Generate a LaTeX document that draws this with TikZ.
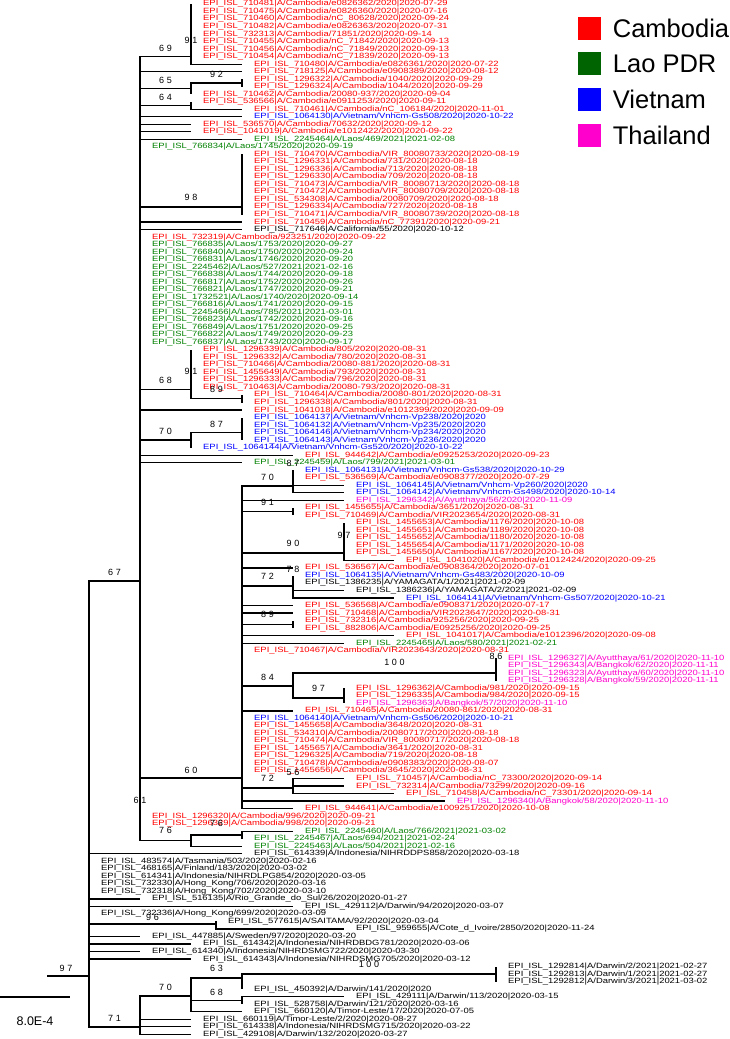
\documentclass[tikz,border=0pt]{standalone}
\usepackage{fontspec}
\setmainfont{Liberation Sans}
\newfontfamily\bsfont[LetterSpace=30]{Liberation Sans}
\usetikzlibrary{positioning}
\usepackage{xcolor}
\definecolor{cam}{RGB}{255,0,0}
\definecolor{lao}{RGB}{0,128,0}
\definecolor{laobox}{RGB}{0,100,0}
\definecolor{vn}{RGB}{0,0,255}
\definecolor{th}{RGB}{255,0,204}
% tree levels, one step per substitution
\newcommand{\lvA}{89}
\newcommand{\lvB}{140}
\newcommand{\lvC}{191}
\newcommand{\lvD}{242}
\newcommand{\lvE}{293}
\newcommand{\lvF}{344}
\newcommand{\lvG}{394}
\newcommand{\lvH}{445}
\newcommand{\lvI}{496}
% row, tip x, colour, strain name
\newcommand{\strain}[4]{%
 \coordinate (t#1) at (#2,{4+7.52*#1});
 \node[leaflab,text=#3] (l#1) at ({#2+12},{4+7.52*#1}) {\scalebox{1.24}[1]{EPI\_ISL\_#4}};}
\tikzset{
 br/.style={line width=1.3pt},
 leaflab/.style={anchor=west, inner sep=0pt, font=\fontsize{7.6}{8}\selectfont},
 bs/.style={inner sep=0pt, font=\bsfont\fontsize{9}{9}\selectfont},
 keybox/.style={minimum size=23pt, inner sep=0pt},
 keytxt/.style={inner sep=0pt, font=\fontsize{25.5}{27}\selectfont}
}
\begin{document}
\begin{tikzpicture}[x=1pt, y=-1pt]
\useasboundingbox (0,0) rectangle (729,1039);
% leaves
\strain{0}{\lvC}{cam}{710481|A/Cambodia/e0826362/2020|2020-07-29}
\strain{1}{\lvC}{cam}{710475|A/Cambodia/e0826360/2020|2020-07-16}
\strain{2}{\lvC}{cam}{710460|A/Cambodia/nC\_80628/2020|2020-09-24}
\strain{3}{\lvC}{cam}{710482|A/Cambodia/e0826363/2020|2020-07-31}
\strain{4}{\lvC}{cam}{732313|A/Cambodia/71851/2020|2020-09-14}
\strain{5}{\lvC}{cam}{710455|A/Cambodia/nC\_71842/2020|2020-09-13}
\strain{6}{\lvC}{cam}{710456|A/Cambodia/nC\_71849/2020|2020-09-13}
\strain{7}{\lvC}{cam}{710454|A/Cambodia/nC\_71839/2020|2020-09-13}
\strain{8}{\lvD}{cam}{710480|A/Cambodia/e0826361/2020|2020-07-22}
\strain{9}{\lvD}{cam}{718125|A/Cambodia/e0908389/2020|2020-08-12}
\strain{10}{\lvD}{cam}{1296322|A/Cambodia/1040/2020|2020-09-29}
\strain{11}{\lvD}{cam}{1296324|A/Cambodia/1044/2020|2020-09-29}
\strain{12}{\lvC}{cam}{710462|A/Cambodia/20080-937/2020|2020-09-04}
\strain{13}{\lvC}{cam}{536566|A/Cambodia/e0911253/2020|2020-09-11}
\strain{14}{\lvD}{cam}{710461|A/Cambodia/nC\_106184/2020|2020-11-01}
\strain{15}{\lvD}{vn}{1064130|A/Vietnam/Vnhcm-Gs508/2020|2020-10-22}
\strain{16}{\lvC}{cam}{536570|A/Cambodia/70632/2020|2020-09-12}
\strain{17}{\lvC}{cam}{1041019|A/Cambodia/e1012422/2020|2020-09-22}
\strain{18}{\lvD}{lao}{2245464|A/Laos/469/2021|2021-02-08}
\strain{19}{\lvB}{lao}{766834|A/Laos/1745/2020|2020-09-19}
\strain{20}{\lvD}{cam}{710470|A/Cambodia/VIR\_80080733/2020|2020-08-19}
\strain{21}{\lvD}{cam}{1296331|A/Cambodia/731/2020|2020-08-18}
\strain{22}{\lvD}{cam}{1296336|A/Cambodia/713/2020|2020-08-18}
\strain{23}{\lvD}{cam}{1296330|A/Cambodia/709/2020|2020-08-18}
\strain{24}{\lvD}{cam}{710473|A/Cambodia/VIR\_80080713/2020|2020-08-18}
\strain{25}{\lvD}{cam}{710472|A/Cambodia/VIR\_80080709/2020|2020-08-18}
\strain{26}{\lvD}{cam}{534308|A/Cambodia/20080709/2020|2020-08-18}
\strain{27}{\lvD}{cam}{1296334|A/Cambodia/727/2020|2020-08-18}
\strain{28}{\lvD}{cam}{710471|A/Cambodia/VIR\_80080739/2020|2020-08-18}
\strain{29}{\lvD}{cam}{710459|A/Cambodia/nC\_77391/2020|2020-09-21}
\strain{30}{\lvD}{black}{717646|A/California/55/2020|2020-10-12}
\strain{31}{\lvB}{cam}{732319|A/Cambodia/923251/2020|2020-09-22}
\strain{32}{\lvB}{lao}{766835|A/Laos/1753/2020|2020-09-27}
\strain{33}{\lvB}{lao}{766840|A/Laos/1750/2020|2020-09-24}
\strain{34}{\lvB}{lao}{766831|A/Laos/1746/2020|2020-09-20}
\strain{35}{\lvB}{lao}{2245462|A/Laos/527/2021|2021-02-16}
\strain{36}{\lvB}{lao}{766838|A/Laos/1744/2020|2020-09-18}
\strain{37}{\lvB}{lao}{766817|A/Laos/1752/2020|2020-09-26}
\strain{38}{\lvB}{lao}{766821|A/Laos/1747/2020|2020-09-21}
\strain{39}{\lvB}{lao}{1732521|A/Laos/1740/2020|2020-09-14}
\strain{40}{\lvB}{lao}{766816|A/Laos/1741/2020|2020-09-15}
\strain{41}{\lvB}{lao}{2245466|A/Laos/785/2021|2021-03-01}
\strain{42}{\lvB}{lao}{766823|A/Laos/1742/2020|2020-09-16}
\strain{43}{\lvB}{lao}{766849|A/Laos/1751/2020|2020-09-25}
\strain{44}{\lvB}{lao}{766822|A/Laos/1749/2020|2020-09-23}
\strain{45}{\lvB}{lao}{766837|A/Laos/1743/2020|2020-09-17}
\strain{46}{\lvC}{cam}{1296339|A/Cambodia/805/2020|2020-08-31}
\strain{47}{\lvC}{cam}{1296332|A/Cambodia/780/2020|2020-08-31}
\strain{48}{\lvC}{cam}{710466|A/Cambodia/20080-881/2020|2020-08-31}
\strain{49}{\lvC}{cam}{1455649|A/Cambodia/793/2020|2020-08-31}
\strain{50}{\lvC}{cam}{1296333|A/Cambodia/796/2020|2020-08-31}
\strain{51}{\lvC}{cam}{710463|A/Cambodia/20080-793/2020|2020-08-31}
\strain{52}{\lvD}{cam}{710464|A/Cambodia/20080-801/2020|2020-08-31}
\strain{53}{\lvD}{cam}{1296338|A/Cambodia/801/2020|2020-08-31}
\strain{54}{\lvD}{cam}{1041018|A/Cambodia/e1012399/2020|2020-09-09}
\strain{55}{\lvD}{vn}{1064137|A/Vietnam/Vnhcm-Vp238/2020|2020}
\strain{56}{\lvD}{vn}{1064132|A/Vietnam/Vnhcm-Vp235/2020|2020}
\strain{57}{\lvD}{vn}{1064146|A/Vietnam/Vnhcm-Vp234/2020|2020}
\strain{58}{\lvD}{vn}{1064143|A/Vietnam/Vnhcm-Vp236/2020|2020}
\strain{59}{\lvC}{vn}{1064144|A/Vietnam/Vnhcm-Gs520/2020|2020-10-22}
\strain{60}{\lvE}{cam}{944642|A/Cambodia/e0925253/2020|2020-09-23}
\strain{61}{\lvD}{lao}{2245459|A/Laos/799/2021|2021-03-01}
\strain{62}{\lvE}{vn}{1064131|A/Vietnam/Vnhcm-Gs538/2020|2020-10-29}
\strain{63}{\lvE}{cam}{536569|A/Cambodia/e0908377/2020|2020-07-29}
\strain{64}{\lvF}{vn}{1064145|A/Vietnam/Vnhcm-Vp260/2020|2020}
\strain{65}{\lvF}{vn}{1064142|A/Vietnam/Vnhcm-Gs498/2020|2020-10-14}
\strain{66}{\lvF}{th}{1296342|A/Ayutthaya/56/2020|2020-11-09}
\strain{67}{\lvE}{cam}{1455655|A/Cambodia/3651/2020|2020-08-31}
\strain{68}{\lvE}{cam}{710469|A/Cambodia/VIR2023654/2020|2020-08-31}
\strain{69}{\lvF}{cam}{1455653|A/Cambodia/1176/2020|2020-10-08}
\strain{70}{\lvF}{cam}{1455651|A/Cambodia/1189/2020|2020-10-08}
\strain{71}{\lvF}{cam}{1455652|A/Cambodia/1180/2020|2020-10-08}
\strain{72}{\lvF}{cam}{1455654|A/Cambodia/1171/2020|2020-10-08}
\strain{73}{\lvF}{cam}{1455650|A/Cambodia/1167/2020|2020-10-08}
\strain{74}{\lvG}{cam}{1041020|A/Cambodia/e1012424/2020|2020-09-25}
\strain{75}{\lvE}{cam}{536567|A/Cambodia/e0908364/2020|2020-07-01}
\strain{76}{\lvE}{vn}{1064135|A/Vietnam/Vnhcm-Gs483/2020|2020-10-09}
\strain{77}{\lvE}{black}{1386235|A/YAMAGATA/1/2021|2021-02-09}
\strain{78}{\lvF}{black}{1386236|A/YAMAGATA/2/2021|2021-02-09}
\strain{79}{\lvG}{vn}{1064141|A/Vietnam/Vnhcm-Gs507/2020|2020-10-21}
\strain{80}{\lvE}{cam}{536568|A/Cambodia/e0908371/2020|2020-07-17}
\strain{81}{\lvE}{cam}{710468|A/Cambodia/VIR2023647/2020|2020-08-31}
\strain{82}{\lvE}{cam}{732316|A/Cambodia/925256/2020|2020-09-25}
\strain{83}{\lvE}{cam}{882806|A/Cambodia/E0925256/2020|2020-09-25}
\strain{84}{\lvG}{cam}{1041017|A/Cambodia/e1012396/2020|2020-09-08}
\strain{85}{\lvF}{lao}{2245465|A/Laos/580/2021|2021-02-21}
\strain{86}{\lvD}{cam}{710467|A/Cambodia/VIR2023643/2020|2020-08-31}
\strain{87}{\lvI}{th}{1296327|A/Ayutthaya/61/2020|2020-11-10}
\strain{88}{\lvI}{th}{1296343|A/Bangkok/62/2020|2020-11-11}
\strain{89}{\lvI}{th}{1296323|A/Ayutthaya/60/2020|2020-11-10}
\strain{90}{\lvI}{th}{1296328|A/Bangkok/59/2020|2020-11-11}
\strain{91}{\lvF}{cam}{1296362|A/Cambodia/981/2020|2020-09-15}
\strain{92}{\lvF}{cam}{1296335|A/Cambodia/984/2020|2020-09-15}
\strain{93}{\lvF}{th}{1296363|A/Bangkok/57/2020|2020-11-10}
\strain{94}{\lvE}{cam}{710465|A/Cambodia/20080-861/2020|2020-08-31}
\strain{95}{\lvD}{vn}{1064140|A/Vietnam/Vnhcm-Gs506/2020|2020-10-21}
\strain{96}{\lvD}{cam}{1455658|A/Cambodia/3648/2020|2020-08-31}
\strain{97}{\lvD}{cam}{534310|A/Cambodia/20080717/2020|2020-08-18}
\strain{98}{\lvD}{cam}{710474|A/Cambodia/VIR\_80080717/2020|2020-08-18}
\strain{99}{\lvD}{cam}{1455657|A/Cambodia/3641/2020|2020-08-31}
\strain{100}{\lvD}{cam}{1296325|A/Cambodia/719/2020|2020-08-18}
\strain{101}{\lvD}{cam}{710478|A/Cambodia/e0908383/2020|2020-08-07}
\strain{102}{\lvD}{cam}{1455656|A/Cambodia/3645/2020|2020-08-31}
\strain{103}{\lvF}{cam}{710457|A/Cambodia/nC\_73300/2020|2020-09-14}
\strain{104}{\lvF}{cam}{732314|A/Cambodia/73299/2020|2020-09-16}
\strain{105}{\lvG}{cam}{710458|A/Cambodia/nC\_73301/2020|2020-09-14}
\strain{106}{\lvH}{th}{1296340|A/Bangkok/58/2020|2020-11-10}
\strain{107}{\lvE}{cam}{944641|A/Cambodia/e1009251/2020|2020-10-08}
\strain{108}{\lvB}{cam}{1296320|A/Cambodia/996/2020|2020-09-21}
\strain{109}{\lvB}{cam}{1296329|A/Cambodia/998/2020|2020-09-21}
\strain{110}{\lvE}{lao}{2245460|A/Laos/766/2021|2021-03-02}
\strain{111}{\lvD}{lao}{2245467|A/Laos/694/2021|2021-02-24}
\strain{112}{\lvD}{lao}{2245463|A/Laos/504/2021|2021-02-16}
\strain{113}{\lvD}{black}{614339|A/Indonesia/NIHRDDPS858/2020|2020-03-18}
\strain{114}{\lvA}{black}{483574|A/Tasmania/503/2020|2020-02-16}
\strain{115}{\lvA}{black}{468165|A/Finland/183/2020|2020-03-02}
\strain{116}{\lvA}{black}{614341|A/Indonesia/NIHRDLPG854/2020|2020-03-05}
\strain{117}{\lvA}{black}{732330|A/Hong\_Kong/706/2020|2020-03-16}
\strain{118}{\lvA}{black}{732318|A/Hong\_Kong/702/2020|2020-03-10}
\strain{119}{\lvB}{black}{516135|A/Rio\_Grande\_do\_Sul/26/2020|2020-01-27}
\strain{120}{\lvE}{black}{429112|A/Darwin/94/2020|2020-03-07}
\strain{121}{\lvA}{black}{732336|A/Hong\_Kong/699/2020|2020-03-09}
\strain{122}{216}{black}{577615|A/SAITAMA/92/2020|2020-03-04}
\strain{123}{\lvF}{black}{959655|A/Cote\_d\_Ivoire/2850/2020|2020-11-24}
\strain{124}{\lvB}{black}{447885|A/Sweden/97/2020|2020-03-20}
\strain{125}{\lvC}{black}{614342|A/Indonesia/NIHRDBDG781/2020|2020-03-06}
\strain{126}{\lvB}{black}{614340|A/Indonesia/NIHRDSMG722/2020|2020-03-30}
\strain{127}{\lvC}{black}{614343|A/Indonesia/NIHRDSMG705/2020|2020-03-12}
\strain{128}{\lvI}{black}{1292814|A/Darwin/2/2021|2021-02-27}
\strain{129}{\lvI}{black}{1292813|A/Darwin/1/2021|2021-02-27}
\strain{130}{\lvI}{black}{1292812|A/Darwin/3/2021|2021-03-02}
\strain{131}{\lvD}{black}{450392|A/Darwin/141/2020|2020}
\strain{132}{\lvF}{black}{429111|A/Darwin/113/2020|2020-03-15}
\strain{133}{\lvD}{black}{528758|A/Darwin/121/2020|2020-03-16}
\strain{134}{\lvD}{black}{660120|A/Timor-Leste/17/2020|2020-07-05}
\strain{135}{\lvC}{black}{660119|A/Timor-Leste/2/2020|2020-08-27}
\strain{136}{\lvC}{black}{614338|A/Indonesia/NIHRDSMG715/2020|2020-03-22}
\strain{137}{\lvC}{black}{429108|A/Darwin/132/2020|2020-03-27}
% internal nodes
\coordinate (root) at (47,976);
\coordinate (na) at (\lvA,976);
\coordinate (n67) at (\lvB,581);
\coordinate (n69) at (\lvC,56.7);
\coordinate (n65) at (\lvC,88.6);
\coordinate (n92) at (\lvD,83);
\coordinate (n64) at (\lvC,105.5);
\coordinate (n98) at (\lvD,207);
\coordinate (n68) at (\lvC,389.4);
\coordinate (n89) at (\lvD,398.8);
\coordinate (n70) at (\lvC,440);
\coordinate (n87) at (\lvD,432.6);
\coordinate (n60) at (\lvD,778);
\coordinate (n70b) at (\lvE,486);
\coordinate (n91c) at (\lvE,511.6);
\coordinate (n90) at (\lvF,553);
\coordinate (n72) at (\lvE,586);
\coordinate (n89b) at (\lvE,624.4);
\coordinate (n84) at (\lvE,686);
\coordinate (n100) at (\lvI,673);
\coordinate (n97b) at (\lvF,698);
\coordinate (n72b) at (\lvE,788);
\coordinate (n76a) at (\lvC,840.6);
\coordinate (n76b) at (\lvD,835);
\coordinate (n96) at (216,924);
\coordinate (n71) at (\lvB,1027);
\coordinate (n70c) at (\lvC,996);
\coordinate (n63) at (\lvD,978);
\coordinate (n100b) at (\lvI,974);
\coordinate (n68b) at (\lvD,1000.3);
% branches
\draw[br] (root) -- (na);
\foreach \c in {n67,n96,n71,t113,t114,t115,t116,t117,t118,t119,t120,t121,t124,t125,t126,t127}
 \draw[br] (na) |- (\c);
\foreach \c in {n69,n65,n64,n98,n68,n70,n60,n76a,t9,t15,t16,t17,t18,t19,t29,t30,t54,t60,t61,t108,t109}
 \draw[br] (n67) |- (\c);
\foreach \k in {31,...,45} \draw[br] (n67) |- (t\k);
\foreach \k in {0,...,8} \draw[br] (n69) |- (t\k);
\draw[br] (n65) |- (n92); \draw[br] (n65) |- (t12);
\foreach \k in {10,11} \draw[br] (n92) |- (t\k);
\foreach \k in {13,14} \draw[br] (n64) |- (t\k);
\foreach \k in {20,...,28} \draw[br] (n98) |- (t\k);
\foreach \k in {46,...,51} \draw[br] (n68) |- (t\k);
\draw[br] (n68) |- (n89);
\foreach \k in {52,53} \draw[br] (n89) |- (t\k);
\draw[br] (n70) |- (n87); \draw[br] (n70) |- (t59);
\foreach \k in {55,...,58} \draw[br] (n87) |- (t\k);
\foreach \c in {n70b,n91c,n90,n72,n89b,n84,n72b,t66,t75,t80,t81,t84,t85,t86,t94,t95,t96,t97,t98,t99,t100,t101,t102,t106,t107}
 \draw[br] (n60) |- (\c);
\foreach \k in {62,...,65} \draw[br] (n70b) |- (t\k);
\foreach \k in {67,68} \draw[br] (n91c) |- (t\k);
\foreach \k in {69,...,74} \draw[br] (n90) |- (t\k);
\foreach \k in {76,...,79} \draw[br] (n72) |- (t\k);
\foreach \k in {82,83} \draw[br] (n89b) |- (t\k);
\draw[br] (n84) |- (n100); \draw[br] (n84) |- (n97b);
\foreach \k in {87,...,90} \draw[br] (n100) |- (t\k);
\foreach \k in {91,92,93} \draw[br] (n97b) |- (t\k);
\foreach \k in {103,104,105} \draw[br] (n72b) |- (t\k);
\draw[br] (n76a) |- (n76b); \draw[br] (n76a) |- (t112);
\foreach \k in {110,111} \draw[br] (n76b) |- (t\k);
\foreach \k in {122,123} \draw[br] (n96) |- (t\k);
\draw[br] (n71) |- (n70c);
\foreach \k in {135,136,137} \draw[br] (n71) |- (t\k);
\draw[br] (n70c) |- (n63); \draw[br] (n70c) |- (n68b); \draw[br] (n70c) |- (t134);
\draw[br] (n63) |- (n100b); \draw[br] (n63) |- (t131);
\foreach \k in {128,129,130} \draw[br] (n100b) |- (t\k);
\foreach \k in {132,133} \draw[br] (n68b) |- (t\k);
% bootstrap values
\foreach \x/\y/\v [count=\k] in {165.5/48/69, 191/40/91, 216.5/74/92, 165.5/80/65, 165.5/97/64,
 191/197/98, 191/371/91, 165.5/380/68, 216.5/389/89, 216.5/424/87, 165.5/431/70,
 293/463/87, 267.5/477/70, 267.5/502/91, 344/535/97, 293/543/90, 293/569/78,
 267.5/576/72, 114.5/572/67, 267.5/614/89, 394.5/662/100, 496/656/86, 267.5/677/84,
 318.5/688/97, 191/770/60, 267.5/778/72, 293/772/56, 140/800/61, 165.5/830/76,
 216.5/823/76, 152.5/917/96, 66/968/97, 216.5/968/63, 369/964/100, 165.5/987/70,
 216.5/992/68, 114.5/1018/71}
 \node[bs] (bs\k) at (\x,\y) {\v};
% scale bar
\coordinate (sbl) at (0,997);
\coordinate (sbr) at (70,997);
\draw[br] (sbl) -- (sbr);
\node[inner sep=0pt, font=\fontsize{12.5}{13}\selectfont] (sbt) at (35,1021) {8.0E-4};
% legend
\foreach \c/\t [count=\k] in {cam/Cambodia, laobox/Lao PDR, vn/Vietnam, th/Thailand}{
 \node[keybox, fill=\c] (key\k) at (589,{28+35.7*(\k-1)}) {};
 \node[keytxt, right=12pt of key\k] (keyt\k) {\t};
}
\end{tikzpicture}
\end{document}
